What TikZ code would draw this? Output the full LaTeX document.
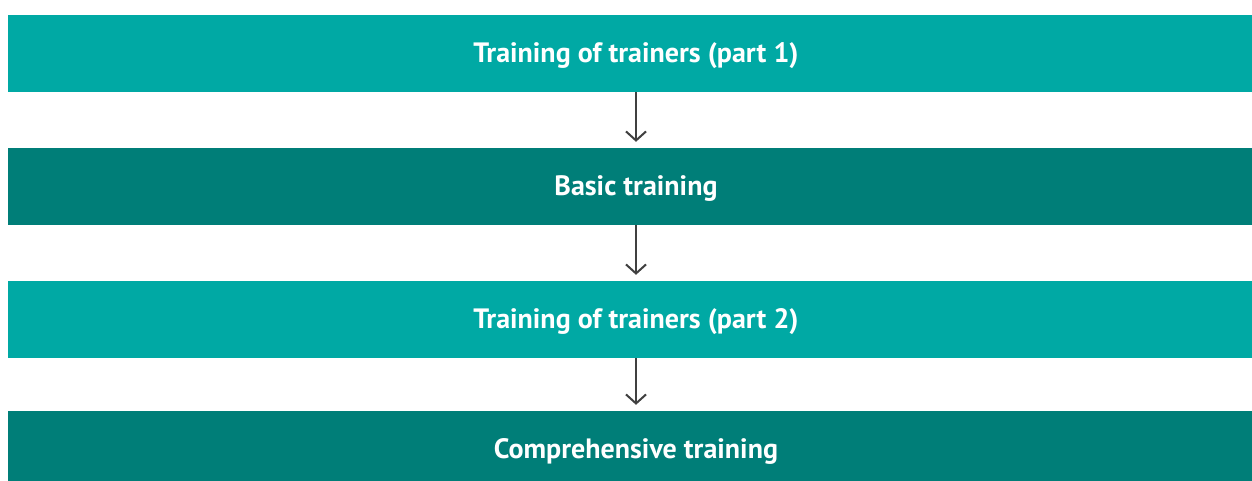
\documentclass[tikz,border=0pt]{standalone}
\usepackage{fontspec}
\setmainfont{PT Sans}
\usetikzlibrary{arrows.meta}
\definecolor{lightteal}{HTML}{00A9A4}
\definecolor{darkteal}{HTML}{007E78}
\definecolor{arrowgray}{HTML}{404040}
\tikzset{
    bar/.style={minimum width=1256pt, text height=48pt, text depth=29pt, inner sep=0pt, text=white, font=\fontsize{28}{33}\selectfont\bfseries},
    flow/.style={draw=arrowgray, line width=2pt, -{Straight Barb[length=9pt, width=20pt, line width=2pt]}, shorten >=6pt}
}

\begin{document}
\begin{tikzpicture}[x=1pt, y=1pt]
    \clip (0, 0) rectangle (1252, 481);
    \node[bar, fill=lightteal] (tot1) at (636, 427.5) {Training of trainers (part 1)};
    \node[bar, fill=darkteal] (basic) at (636, 294.5) {Basic training};
    \node[bar, fill=lightteal] (tot2) at (636, 161.5) {Training of trainers (part 2)};
    \node[bar, fill=darkteal] (comp) at (636, 31.5) {Comprehensive training};
    \draw[flow] (tot1) -- (basic);
    \draw[flow] (basic) -- (tot2);
    \draw[flow] (tot2) -- (comp);
\end{tikzpicture}
\end{document}
